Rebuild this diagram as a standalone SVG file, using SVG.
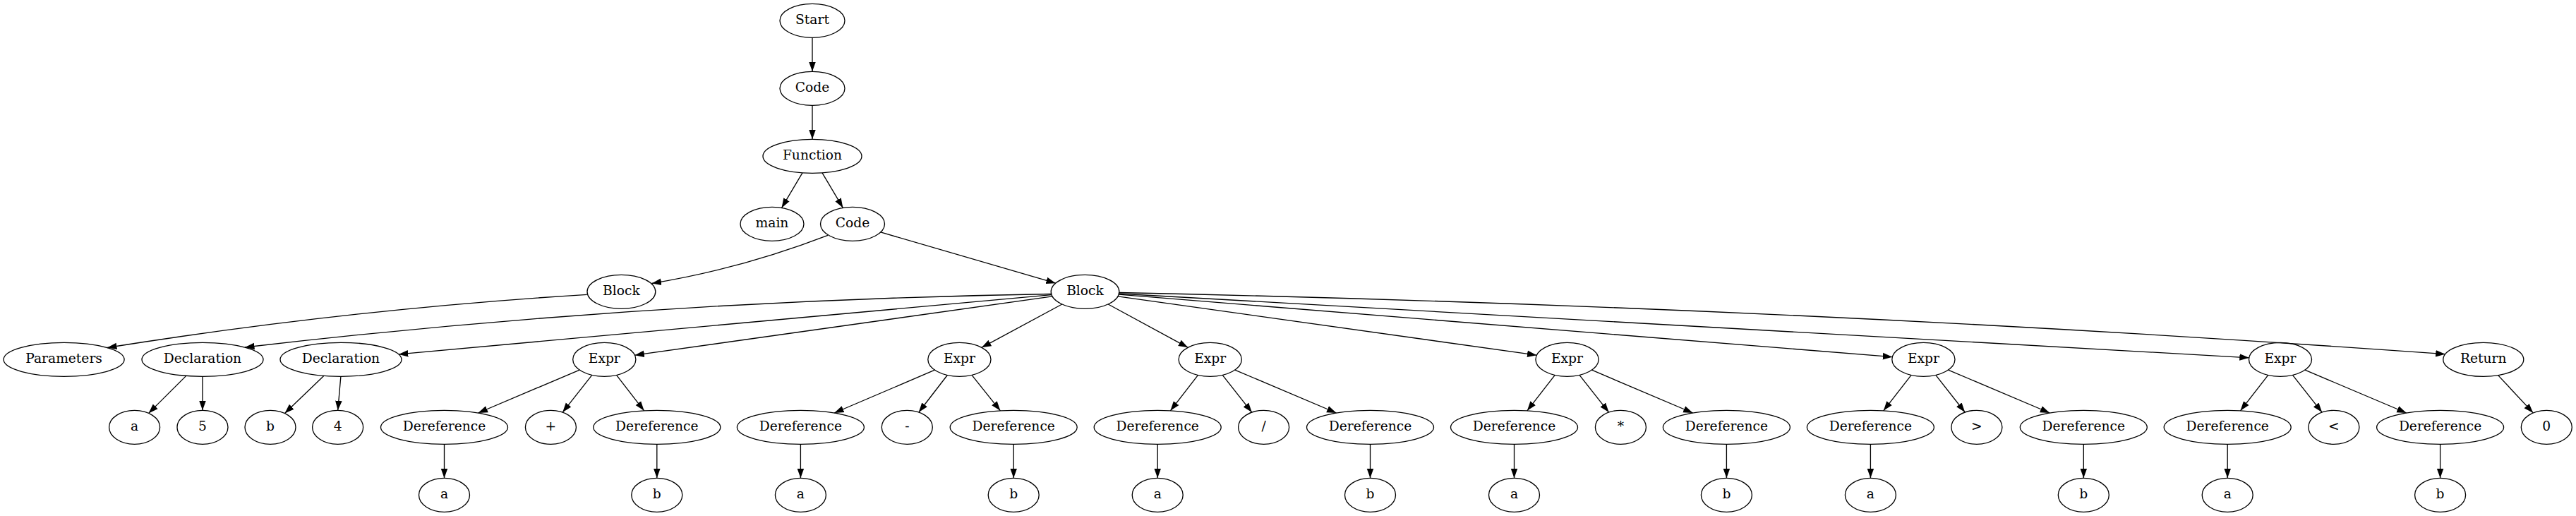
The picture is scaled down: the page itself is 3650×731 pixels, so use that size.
<svg xmlns="http://www.w3.org/2000/svg" width="3650" height="731" viewBox="0 0 3650 731">
<style>
.node ellipse{fill:none;stroke:#000;stroke-width:1.33}
.node text{font-family:"DejaVu Serif",serif;font-size:18.67px;text-anchor:middle;fill:#000}
.edge{fill:none;stroke:#000;stroke-width:1.33;marker-end:url(#arr)}
</style>
<defs>
<marker id="arr" viewBox="0 -6 14 12" markerUnits="userSpaceOnUse" markerWidth="14" markerHeight="12" refX="13.5" refY="0" orient="auto">
<path d="M0,-4.8 L13.5,0 L0,4.8 z" fill="#000"/>
</marker>
</defs>
<rect width="3650" height="731" fill="#fff"/>
<g id="edges">
<path class="edge" d="M1151,53.3 L1151,101.3"/>
<path class="edge" d="M1151,149.3 L1151,197.3"/>
<path class="edge" d="M1137,244.8 L1107.6,294.4"/>
<path class="edge" d="M1165,244.8 L1194.4,294.4"/>
<path class="edge" d="M1173,333.3 Q1049,381 923.5,401.5"/>
<path class="edge" d="M1247.8,328.9 L1495.8,401.2"/>
<path class="edge" d="M831.7,417.3 Q491.9,438.4 152,492.5"/>
<path class="edge" d="M1489.5,416.5 Q918,425.4 347,492"/>
<path class="edge" d="M1490,417.6 L564.8,501.9"/>
<path class="edge" d="M1491,419.9 L899.4,503.2"/>
<path class="edge" d="M1504.8,431 L1390.9,492.3"/>
<path class="edge" d="M1570.2,431 L1683.3,492.3"/>
<path class="edge" d="M1584,419.8 L2177.4,503.2"/>
<path class="edge" d="M1585.2,417.2 L2681.3,505.7"/>
<path class="edge" d="M1585.5,416 L3186.8,506.8"/>
<path class="edge" d="M1585.8,414.5 Q2525,434 3464.7,501.7"/>
<path class="edge" d="M263.8,532.4 L210.6,585.4"/>
<path class="edge" d="M287,533.3 L287,581.3"/>
<path class="edge" d="M459,532.3 L403.5,585.6"/>
<path class="edge" d="M482.9,533.3 L478.7,581.3"/>
<path class="edge" d="M821.2,524.1 L677.5,585"/>
<path class="edge" d="M838.8,531.4 L797.2,584.1"/>
<path class="edge" d="M873.5,531.4 L912.6,581.8"/>
<path class="edge" d="M1324.5,524.2 L1182.1,585"/>
<path class="edge" d="M1342.3,531.5 L1301.8,584"/>
<path class="edge" d="M1377,531.3 L1417.4,581.8"/>
<path class="edge" d="M1697.5,531.4 L1658.4,581.8"/>
<path class="edge" d="M1732.2,531.4 L1773.8,584.1"/>
<path class="edge" d="M1749.8,524.1 L1893.5,585"/>
<path class="edge" d="M2203.2,531.4 L2163.9,581.8"/>
<path class="edge" d="M2238,531.4 L2279.6,584.1"/>
<path class="edge" d="M2255.5,524.2 L2398.6,585"/>
<path class="edge" d="M2708.1,531.4 L2668.8,581.8"/>
<path class="edge" d="M2742.8,531.4 L2784.2,584"/>
<path class="edge" d="M2760.5,524.1 L2904.3,585"/>
<path class="edge" d="M3213.8,531.4 L3174.5,581.8"/>
<path class="edge" d="M3248.5,531.4 L3290.1,584.1"/>
<path class="edge" d="M3266,524.1 L3409.7,585"/>
<path class="edge" d="M3539.6,531.6 L3589.3,584.9"/>
<path class="edge" d="M629.5,629.3 L629.5,677.3"/>
<path class="edge" d="M930.8,629.3 L930.8,677.3"/>
<path class="edge" d="M1134.4,629.3 L1134.4,677.3"/>
<path class="edge" d="M1436.2,629.3 L1436.2,677.3"/>
<path class="edge" d="M1640.2,629.3 L1640.2,677.3"/>
<path class="edge" d="M1941.5,629.3 L1941.5,677.3"/>
<path class="edge" d="M2145.5,629.3 L2145.5,677.3"/>
<path class="edge" d="M2446.4,629.3 L2446.4,677.3"/>
<path class="edge" d="M2650.4,629.3 L2650.4,677.3"/>
<path class="edge" d="M2952.3,629.3 L2952.3,677.3"/>
<path class="edge" d="M3156.2,629.3 L3156.2,677.3"/>
<path class="edge" d="M3457.6,629.3 L3457.6,677.3"/>
</g>
<g id="n_start" class="node"><ellipse cx="1151" cy="29.3" rx="46" ry="24"/><text x="1151" y="34.3">Start</text></g>
<g id="n_code" class="node"><ellipse cx="1151" cy="125.3" rx="46" ry="24"/><text x="1151" y="130.3">Code</text></g>
<g id="n_function" class="node"><ellipse cx="1151" cy="221.3" rx="70" ry="24"/><text x="1151" y="226.3">Function</text></g>
<g id="n_main" class="node"><ellipse cx="1094" cy="317.3" rx="45" ry="24"/><text x="1094" y="322.3">main</text></g>
<g id="n_code2" class="node"><ellipse cx="1208" cy="317.3" rx="45.5" ry="24"/><text x="1208" y="322.3">Code</text></g>
<g id="n_block1" class="node"><ellipse cx="880.4" cy="413.3" rx="48.4" ry="24"/><text x="880.4" y="418.3">Block</text></g>
<g id="n_block2" class="node"><ellipse cx="1537.5" cy="413.3" rx="48.3" ry="24"/><text x="1537.5" y="418.3">Block</text></g>
<g id="n_params" class="node"><ellipse cx="90.6" cy="509.3" rx="85.5" ry="24"/><text x="90.6" y="514.3">Parameters</text></g>
<g id="n_decl1" class="node"><ellipse cx="287" cy="509.3" rx="86" ry="24"/><text x="287" y="514.3">Declaration</text></g>
<g id="n_decl2" class="node"><ellipse cx="483" cy="509.3" rx="86" ry="24"/><text x="483" y="514.3">Declaration</text></g>
<g id="n_expr1" class="node"><ellipse cx="856.3" cy="509.3" rx="44.6" ry="24"/><text x="856.3" y="514.3">Expr</text></g>
<g id="n_expr2" class="node"><ellipse cx="1359.4" cy="509.3" rx="44.6" ry="24"/><text x="1359.4" y="514.3">Expr</text></g>
<g id="n_expr3" class="node"><ellipse cx="1714.7" cy="509.3" rx="44.6" ry="24"/><text x="1714.7" y="514.3">Expr</text></g>
<g id="n_expr4" class="node"><ellipse cx="2220.5" cy="509.3" rx="44.6" ry="24"/><text x="2220.5" y="514.3">Expr</text></g>
<g id="n_expr5" class="node"><ellipse cx="2725.4" cy="509.3" rx="44.6" ry="24"/><text x="2725.4" y="514.3">Expr</text></g>
<g id="n_expr6" class="node"><ellipse cx="3231" cy="509.3" rx="44.5" ry="24"/><text x="3231" y="514.3">Expr</text></g>
<g id="n_return" class="node"><ellipse cx="3518.8" cy="509.3" rx="57" ry="24"/><text x="3518.8" y="514.3">Return</text></g>
<g id="n_a0" class="node"><ellipse cx="190.6" cy="605.3" rx="36" ry="24"/><text x="190.6" y="610.3">a</text></g>
<g id="n_5" class="node"><ellipse cx="287" cy="605.3" rx="36" ry="24"/><text x="287" y="610.3">5</text></g>
<g id="n_b0" class="node"><ellipse cx="383" cy="605.3" rx="36" ry="24"/><text x="383" y="610.3">b</text></g>
<g id="n_4" class="node"><ellipse cx="478.6" cy="605.3" rx="36" ry="24"/><text x="478.6" y="610.3">4</text></g>
<g id="n_deref1" class="node"><ellipse cx="629.5" cy="605.3" rx="90" ry="24"/><text x="629.5" y="610.3">Dereference</text></g>
<g id="n_plus" class="node"><ellipse cx="780.4" cy="605.3" rx="36" ry="24"/><text x="780.4" y="610.3">+</text></g>
<g id="n_deref2" class="node"><ellipse cx="930.8" cy="605.3" rx="90" ry="24"/><text x="930.8" y="610.3">Dereference</text></g>
<g id="n_deref3" class="node"><ellipse cx="1134.4" cy="605.3" rx="90" ry="24"/><text x="1134.4" y="610.3">Dereference</text></g>
<g id="n_minus" class="node"><ellipse cx="1285.3" cy="605.3" rx="36" ry="24"/><text x="1285.3" y="610.3">-</text></g>
<g id="n_deref4" class="node"><ellipse cx="1436.2" cy="605.3" rx="90" ry="24"/><text x="1436.2" y="610.3">Dereference</text></g>
<g id="n_deref5" class="node"><ellipse cx="1640.2" cy="605.3" rx="90" ry="24"/><text x="1640.2" y="610.3">Dereference</text></g>
<g id="n_div" class="node"><ellipse cx="1790.6" cy="605.3" rx="36" ry="24"/><text x="1790.6" y="610.3">/</text></g>
<g id="n_deref6" class="node"><ellipse cx="1941.5" cy="605.3" rx="90" ry="24"/><text x="1941.5" y="610.3">Dereference</text></g>
<g id="n_deref7" class="node"><ellipse cx="2145.5" cy="605.3" rx="90" ry="24"/><text x="2145.5" y="610.3">Dereference</text></g>
<g id="n_mul" class="node"><ellipse cx="2296.4" cy="605.3" rx="36" ry="24"/><text x="2296.4" y="610.3">*</text></g>
<g id="n_deref8" class="node"><ellipse cx="2446.4" cy="605.3" rx="90" ry="24"/><text x="2446.4" y="610.3">Dereference</text></g>
<g id="n_deref9" class="node"><ellipse cx="2650.4" cy="605.3" rx="90" ry="24"/><text x="2650.4" y="610.3">Dereference</text></g>
<g id="n_gt" class="node"><ellipse cx="2800.9" cy="605.3" rx="36" ry="24"/><text x="2800.9" y="610.3">&gt;</text></g>
<g id="n_deref10" class="node"><ellipse cx="2952.3" cy="605.3" rx="90" ry="24"/><text x="2952.3" y="610.3">Dereference</text></g>
<g id="n_deref11" class="node"><ellipse cx="3156.2" cy="605.3" rx="90" ry="24"/><text x="3156.2" y="610.3">Dereference</text></g>
<g id="n_lt" class="node"><ellipse cx="3306.9" cy="605.3" rx="36" ry="24"/><text x="3306.9" y="610.3">&lt;</text></g>
<g id="n_deref12" class="node"><ellipse cx="3457.6" cy="605.3" rx="90" ry="24"/><text x="3457.6" y="610.3">Dereference</text></g>
<g id="n_zero" class="node"><ellipse cx="3608.3" cy="605.3" rx="36" ry="24"/><text x="3608.3" y="610.3">0</text></g>
<g id="n_a1" class="node"><ellipse cx="629.5" cy="701.3" rx="36" ry="24"/><text x="629.5" y="706.3">a</text></g>
<g id="n_b1" class="node"><ellipse cx="930.8" cy="701.3" rx="36" ry="24"/><text x="930.8" y="706.3">b</text></g>
<g id="n_a2" class="node"><ellipse cx="1134.4" cy="701.3" rx="36" ry="24"/><text x="1134.4" y="706.3">a</text></g>
<g id="n_b2" class="node"><ellipse cx="1436.2" cy="701.3" rx="36" ry="24"/><text x="1436.2" y="706.3">b</text></g>
<g id="n_a3" class="node"><ellipse cx="1640.2" cy="701.3" rx="36" ry="24"/><text x="1640.2" y="706.3">a</text></g>
<g id="n_b3" class="node"><ellipse cx="1941.5" cy="701.3" rx="36" ry="24"/><text x="1941.5" y="706.3">b</text></g>
<g id="n_a4" class="node"><ellipse cx="2145.5" cy="701.3" rx="36" ry="24"/><text x="2145.5" y="706.3">a</text></g>
<g id="n_b4" class="node"><ellipse cx="2446.4" cy="701.3" rx="36" ry="24"/><text x="2446.4" y="706.3">b</text></g>
<g id="n_a5" class="node"><ellipse cx="2650.4" cy="701.3" rx="36" ry="24"/><text x="2650.4" y="706.3">a</text></g>
<g id="n_b5" class="node"><ellipse cx="2952.3" cy="701.3" rx="36" ry="24"/><text x="2952.3" y="706.3">b</text></g>
<g id="n_a6" class="node"><ellipse cx="3156.2" cy="701.3" rx="36" ry="24"/><text x="3156.2" y="706.3">a</text></g>
<g id="n_b6" class="node"><ellipse cx="3457.6" cy="701.3" rx="36" ry="24"/><text x="3457.6" y="706.3">b</text></g>
</svg>
